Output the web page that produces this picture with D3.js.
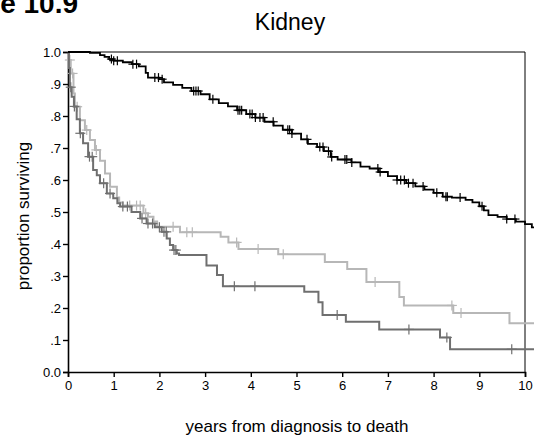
<!DOCTYPE html>
<html>
<head>
<meta charset="utf-8">
<script src="https://cdn.jsdelivr.net/npm/d3@7"></script>
<style>
  html, body { margin: 0; padding: 0; background: #fff; }
  svg { display: block; font-family: "Liberation Sans", Arial, sans-serif; }
</style>
</head>
<body>
<svg id="chart" width="534" height="436"></svg>
<script>
// Kaplan-Meier survival steps: event times (years) and survival after each step
const blackTimes = [0, 0.48, 0.7, 0.8, 0.9, 1.0, 1.2, 1.4, 1.55, 1.7, 1.75, 2.0, 2.1, 2.3, 2.5, 2.7, 2.9, 3.1, 3.3, 3.5, 3.7, 3.9, 4.1, 4.3, 4.5, 4.7, 4.9, 5.1, 5.25, 5.45, 5.6, 5.75, 5.9, 6.2, 6.4, 6.6, 6.8, 7.0, 7.2, 7.4, 7.6, 7.8, 8.0, 8.2, 8.4, 8.7, 8.85, 9.0, 9.1, 9.2, 9.4, 9.6, 9.8, 10.0, 10.15];
const blackSurv  = [1.0, 0.997, 0.99, 0.985, 0.978, 0.973, 0.968, 0.962, 0.955, 0.935, 0.92, 0.915, 0.905, 0.897, 0.888, 0.878, 0.868, 0.852, 0.84, 0.83, 0.818, 0.806, 0.795, 0.782, 0.77, 0.757, 0.745, 0.727, 0.713, 0.703, 0.69, 0.672, 0.664, 0.655, 0.642, 0.636, 0.625, 0.612, 0.6, 0.59, 0.58, 0.57, 0.56, 0.548, 0.545, 0.538, 0.53, 0.518, 0.505, 0.49, 0.485, 0.478, 0.47, 0.462, 0.452];
const blackCensor = [0.95, 1.0, 1.08, 1.42, 1.5, 1.9, 1.98, 2.06, 2.75, 2.8, 2.85, 3.17, 3.72, 3.76, 3.8, 3.98, 4.03, 4.1, 4.2, 4.27, 4.49, 4.81, 4.85, 4.9, 5.23, 5.51, 5.58, 5.7, 5.77, 6.06, 6.1, 6.21, 6.78, 6.83, 7.2, 7.28, 7.36, 7.45, 7.55, 7.77, 8.07, 8.27, 8.3, 8.58, 9.06, 9.6, 9.78];

const lightTimes = [0, 0.02, 0.06, 0.12, 0.15, 0.26, 0.37, 0.48, 0.59, 0.7, 0.81, 0.92, 1.07, 1.12, 1.2, 1.65, 1.75, 1.87, 1.95, 2.45, 3.34, 3.51, 3.73, 4.6, 5.62, 6.11, 6.53, 7.25, 7.35, 8.43, 9.66];
const lightSurv  = [1.0, 0.975, 0.933, 0.87, 0.829, 0.787, 0.756, 0.725, 0.694, 0.66, 0.62, 0.579, 0.545, 0.53, 0.52, 0.496, 0.485, 0.47, 0.454, 0.437, 0.423, 0.405, 0.384, 0.368, 0.344, 0.322, 0.281, 0.234, 0.208, 0.184, 0.152];
const lightCensor = [0.04, 0.1, 0.2, 0.41, 0.62, 1.35, 1.5, 1.58, 1.7, 2.3, 2.6, 2.72, 3.69, 4.16, 4.71, 6.72, 8.4, 8.6];

const darkTimes = [0, 0.02, 0.04, 0.08, 0.13, 0.19, 0.26, 0.33, 0.44, 0.55, 0.63, 0.7, 0.85, 0.99, 1.08, 1.14, 1.39, 1.58, 1.72, 1.9, 2.05, 2.16, 2.23, 2.3, 2.38, 2.43, 3.03, 3.26, 3.39, 5.17, 5.48, 5.57, 6.08, 6.81, 8.14, 8.36];
const darkSurv  = [1.0, 0.95, 0.89, 0.86, 0.83, 0.79, 0.746, 0.715, 0.673, 0.631, 0.615, 0.59, 0.558, 0.543, 0.527, 0.517, 0.5, 0.48, 0.464, 0.452, 0.438, 0.417, 0.397, 0.381, 0.37, 0.366, 0.333, 0.303, 0.268, 0.251, 0.218, 0.178, 0.157, 0.133, 0.108, 0.071];
const darkCensor = [0.06, 0.14, 0.27, 0.47, 0.53, 0.78, 0.92, 1.2, 1.3, 1.62, 1.75, 1.85, 2.0, 2.1, 2.15, 2.32, 2.36, 3.64, 4.09, 5.89, 7.46, 8.29, 9.71];

const followUpEnd = 10.2;
const xTicks = [0, 1, 2, 3, 4, 5, 6, 7, 8, 9, 10];
const yTicks = [0, 0.1, 0.2, 0.3, 0.4, 0.5, 0.6, 0.7, 0.8, 0.9, 1.0];
const yTickLabels = ["0.0", ".1", ".2", ".3", ".4", ".5", ".6", ".7", ".8", ".9", "1.0"];

const svg = d3.select("#chart");
const plot = { left: 68, right: 525, top: 52, bottom: 372 };

const x = d3.scaleLinear().domain([0, 10]).range([plot.left, plot.right]);
const y = d3.scaleLinear().domain([0, 1]).range([plot.bottom, plot.top]);

// figure number and title
svg.append("text").attr("x", 78).attr("y", 13).attr("text-anchor", "end")
  .attr("font-size", 28).attr("font-weight", "bold").text("Figure 10.9");
svg.append("text").attr("x", 290).attr("y", 30).attr("text-anchor", "middle")
  .attr("font-size", 23).text("Kidney");

// frame top and right
svg.append("line").attr("x1", plot.left).attr("x2", plot.right).attr("y1", plot.top).attr("y2", plot.top)
  .attr("stroke", "#000").attr("stroke-width", 1);
svg.append("line").attr("x1", plot.right).attr("x2", plot.right).attr("y1", plot.top).attr("y2", plot.bottom)
  .attr("stroke", "#000").attr("stroke-width", 1);

// axes
const xAxis = svg.append("g").attr("transform", `translate(0,${plot.bottom})`)
  .call(d3.axisBottom(x).tickValues(xTicks).tickFormat(d3.format("d")).tickSize(5).tickPadding(4));
const yAxis = svg.append("g").attr("transform", `translate(${plot.left},0)`)
  .call(d3.axisLeft(y).tickValues(yTicks).tickFormat((d, i) => yTickLabels[i]).tickSize(5).tickPadding(2));
[xAxis, yAxis].forEach(g => {
  g.select(".domain").attr("stroke", "#000").attr("stroke-width", 1.6);
  g.selectAll(".tick line").attr("stroke", "#000").attr("stroke-width", 1.4);
  g.selectAll("text").attr("font-size", 13).attr("fill", "#000")
    .attr("font-family", "Liberation Sans, Arial, sans-serif");
});

// axis titles
svg.append("text").attr("x", 297).attr("y", 432).attr("text-anchor", "middle")
  .attr("font-size", 17).text("years from diagnosis to death");
svg.append("text").attr("transform", "translate(29,216) rotate(-90)")
  .attr("text-anchor", "middle").attr("font-size", 17).text("proportion surviving");

const line = d3.line().x(d => x(d[0])).y(d => y(d[1])).curve(d3.curveStepAfter);

function survAt(times, surv, t) {
  const i = d3.bisectRight(times, t) - 1;
  return surv[Math.max(0, i)];
}

function drawCurve(times, surv, censor, color, width, half) {
  const pts = times.map((t, i) => [t, surv[i]]);
  pts.push([followUpEnd, surv[surv.length - 1]]);
  svg.append("path").datum(pts).attr("d", line)
    .attr("fill", "none").attr("stroke", color).attr("stroke-width", width);
  const g = svg.append("g").attr("stroke", color).attr("stroke-width", 1.2);
  censor.forEach(t => {
    const cx = x(t), cy = y(survAt(times, surv, t));
    g.append("line").attr("x1", cx - half).attr("x2", cx + half).attr("y1", cy).attr("y2", cy);
    g.append("line").attr("x1", cx).attr("x2", cx).attr("y1", cy - half).attr("y2", cy + half);
  });
}

drawCurve(lightTimes, lightSurv, lightCensor, "#b7b7b7", 2, 5);
drawCurve(darkTimes, darkSurv, darkCensor, "#6f6f6f", 2, 5);
drawCurve(blackTimes, blackSurv, blackCensor, "#000", 1.8, 4.5);
</script>
</body>
</html>
